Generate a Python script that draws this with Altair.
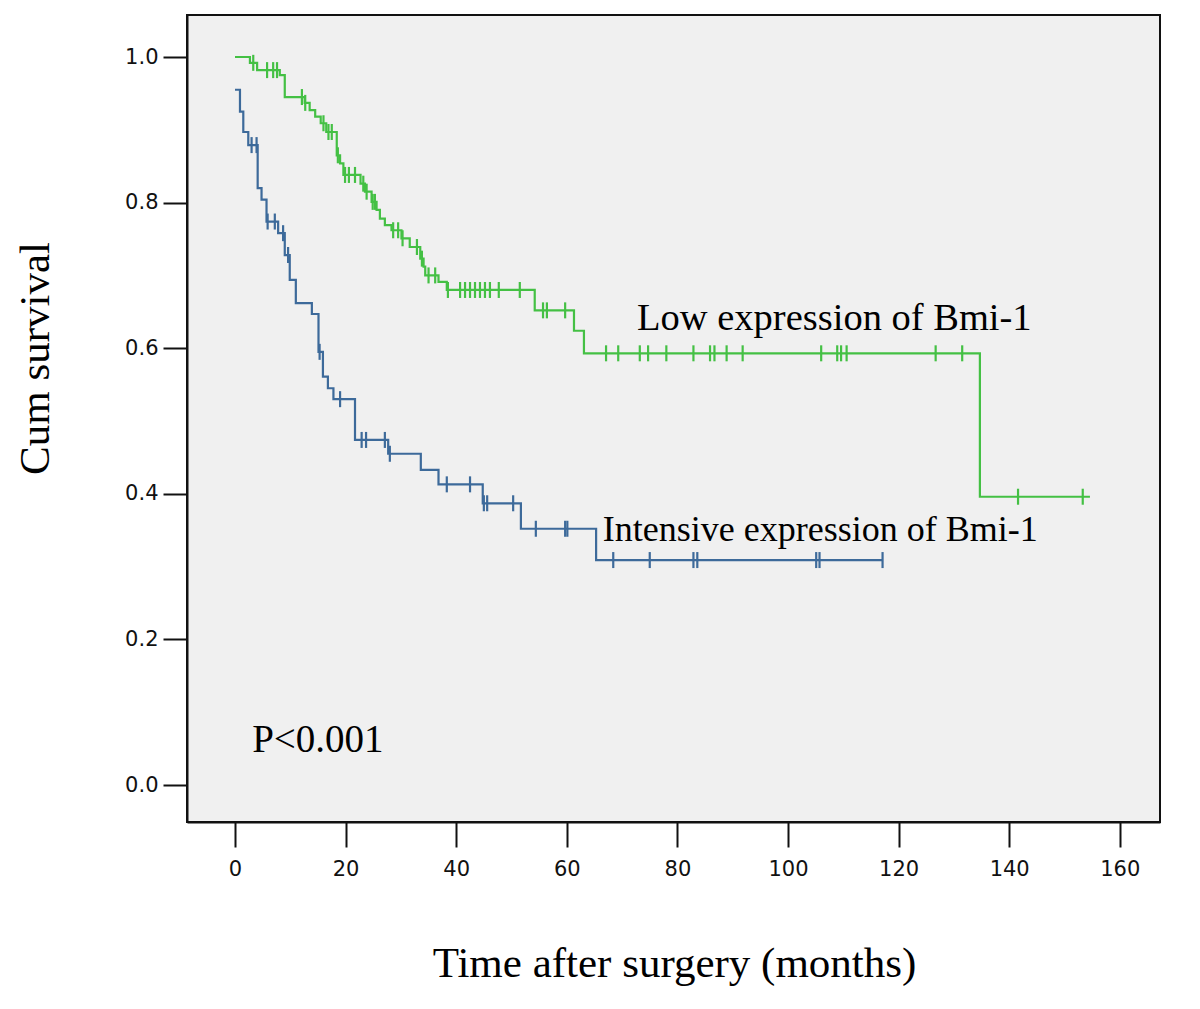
import altair as alt
import pandas as pd

# ---- data ----
low_t = [0, 2.7, 4.0, 8.1, 9.0, 12.6, 13.5, 14.5, 15.5, 16.5, 18.4, 19.0, 19.6,
         22.7, 23.5, 24.7, 25.6, 26.2, 27.1, 28.3, 30.1, 31.6, 33.5, 34.1, 34.4,
         36.8, 38.3, 54.2, 61.3, 63.1, 134.7, 154.6]
low_s = [1.0, 0.992, 0.982, 0.975, 0.945, 0.937, 0.927, 0.918, 0.909, 0.897, 0.865, 0.854, 0.838,
         0.826, 0.815, 0.801, 0.790, 0.778, 0.769, 0.762, 0.751, 0.739, 0.723, 0.712, 0.700,
         0.691, 0.680, 0.652, 0.624, 0.593, 0.396, 0.396]
low_cens = [3.3, 5.8, 6.9, 7.6, 12.1, 12.7, 16.0, 16.9, 17.5, 18.6, 19.9, 20.6, 21.7,
            23.2, 23.8, 24.9, 25.3, 28.6, 29.5, 30.3, 32.9, 33.8, 35.0, 36.2, 38.5,
            40.7, 41.6, 42.5, 43.4, 44.3, 45.2, 46.1, 47.7, 51.5, 55.7, 56.4, 59.7,
            67.1, 69.3, 73.2, 74.7, 78.0, 82.9, 85.9, 86.7, 88.9, 91.8,
            106.0, 108.9, 109.6, 110.6, 126.7, 131.5, 141.6, 153.3]

int_t = [0, 0.9, 1.5, 2.4, 4.1, 4.8, 5.7, 7.8, 9.0, 9.9, 11.0, 13.9, 15.1, 15.9, 16.8,
         17.8, 21.7, 27.7, 33.6, 36.8, 44.8, 51.7, 65.3, 117.1]
int_s = [0.955, 0.925, 0.897, 0.879, 0.820, 0.804, 0.774, 0.758, 0.728, 0.694, 0.662, 0.647,
         0.595, 0.561, 0.545, 0.530, 0.474, 0.455, 0.433, 0.413, 0.387, 0.352, 0.309, 0.309]
int_cens = [3.0, 3.9, 5.9, 7.2, 8.7, 9.6, 15.3, 19.0, 22.9, 23.7, 27.1, 28.0, 38.3, 42.5,
            45.0, 45.6, 50.3, 54.4, 59.7, 60.1, 68.4, 75.0, 82.9, 83.6, 105.1, 105.7, 117.1]

GROUPS = ["Low expression of Bmi-1", "Intensive expression of Bmi-1"]
COLORS = ["#44c044", "#3d6a9a"]

x_ticks = [0, 20, 40, 60, 80, 100, 120, 140, 160]
y_ticks = [0.0, 0.2, 0.4, 0.6, 0.8, 1.0]

label_text = ["Low expression of Bmi-1", "Intensive expression of Bmi-1", "P<0.001"]
label_t = [72.7, 66.5, 3.1]
label_s = [0.641, 0.350, 0.062]
label_size = [38.5, 36, 39]


def step_value(ts, ss, t):
    v = ss[0]
    for tt, s in zip(ts, ss):
        if tt <= t:
            v = s
    return v


rows, cens = [], []
for g, ts, ss, cs in [(GROUPS[0], low_t, low_s, low_cens), (GROUPS[1], int_t, int_s, int_cens)]:
    for i, (t, s) in enumerate(zip(ts, ss)):
        rows.append({"group": g, "t": t, "s": s, "order": i})
    for c in cs:
        cens.append({"group": g, "t": c, "s": step_value(ts, ss, c)})

curve_df = pd.DataFrame(rows)
cens_df = pd.DataFrame(cens)
labels_df = pd.DataFrame({"t": label_t, "s": label_s, "text": label_text, "size": label_size})

xscale = alt.Scale(domain=[-8.68, 167.27], nice=False, zero=False)
yscale = alt.Scale(domain=[-0.0508, 1.0577], nice=False, zero=False)
cscale = alt.Scale(domain=GROUPS, range=COLORS)

x_enc = alt.X("t:Q", scale=xscale, title="Time after surgery (months)",
              axis=alt.Axis(values=x_ticks, format="d", grid=False, tickSize=25,
                            labelPadding=11, titleX=487, titleY=141,
                            titleBaseline="middle", titleAlign="center"))
y_enc = alt.Y("s:Q", scale=yscale, title="Cum survival",
              axis=alt.Axis(values=y_ticks, format=".1f", grid=False, tickSize=24,
                            labelPadding=5, titleX=-152, titleY=343, titleAngle=270,
                            titleBaseline="middle", titleAlign="center"))

lines = alt.Chart(curve_df).mark_line(interpolate="step-after", strokeWidth=2.2).encode(
    x=x_enc, y=y_enc,
    color=alt.Color("group:N", scale=cscale, legend=None),
    order="order:Q",
)

ticks = alt.Chart(cens_df).mark_tick(orient="vertical", size=16, thickness=2.2, opacity=1).encode(
    x=alt.X("t:Q", scale=xscale),
    y=alt.Y("s:Q", scale=yscale),
    color=alt.Color("group:N", scale=cscale, legend=None),
)

texts = alt.Chart(labels_df).mark_text(
    align="left", baseline="middle", font="Liberation Serif", color="black"
).encode(
    x=alt.X("t:Q", scale=xscale),
    y=alt.Y("s:Q", scale=yscale),
    text="text:N",
    size=alt.Size("size:Q", scale=None, legend=None),
)

chart = alt.layer(lines, ticks, texts).properties(
    width=973, height=807,
    autosize=alt.AutoSizeParams(type="none"),
    padding={"left": 179, "top": 7, "right": 20, "bottom": 170},
    background="white",
).configure_view(
    fill="#f0f0f0", stroke="#111111", strokeWidth=2
).configure_axis(
    domainColor="#111111", domainWidth=2, tickColor="#111111", tickWidth=2,
    labelFont="DejaVu Sans", labelFontSize=21, labelColor="#111111",
    titleFont="Liberation Serif", titleFontSize=43, titleFontWeight="normal",
    titleColor="black",
)

chart.save("out.html", embed_options={"renderer": "svg", "actions": False})
